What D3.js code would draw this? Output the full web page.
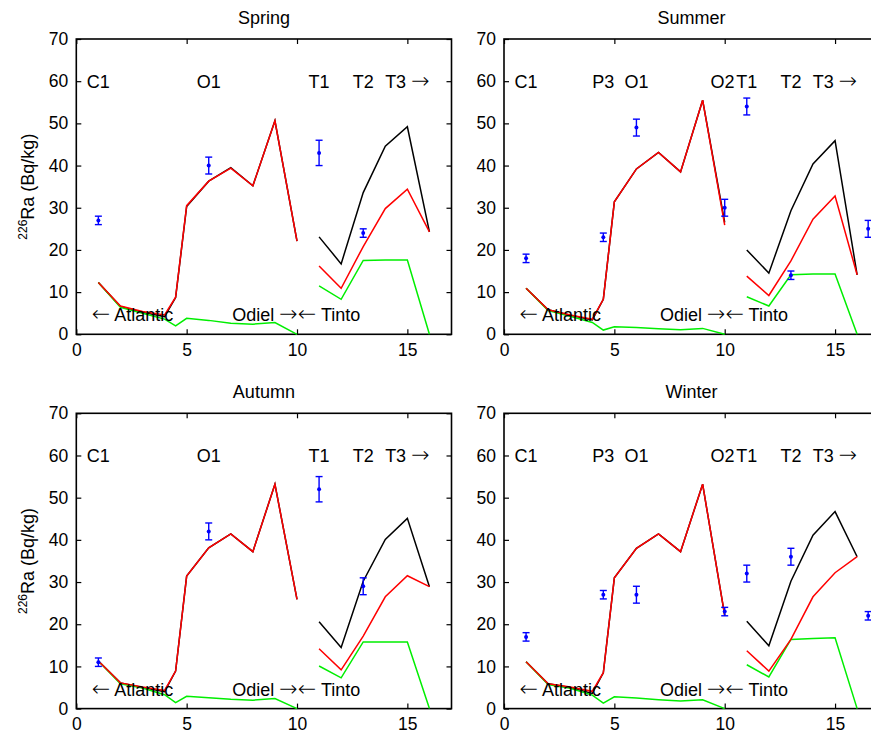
<!DOCTYPE html>
<html><head><meta charset="utf-8">
<script src="https://cdn.jsdelivr.net/npm/d3@7"></script>
<style>
body{margin:0;background:#fff;}
svg{display:block;font-family:"Liberation Sans",Arial,Helvetica,sans-serif;}
</style></head><body>
<svg id="chart" width="871" height="737"></svg>
<script>
// ---- data ----
const seasons = ["Spring", "Summer", "Autumn", "Winter"];
const xMain = [1, 2, 3, 4, 4.5, 5, 6, 7, 8, 9, 10];
const xTinto = [11, 12, 13, 14, 15, 16];
const yTicks = [0, 10, 20, 30, 40, 50, 60, 70];
const xTicks = [0, 5, 10, 15];

const springBlackMain = [12.3, 6.6, 5.2, 4.2, 8.7, 30.3, 36.3, 39.5, 35.2, 50.6, 22.1];
const springRedMain   = [12.3, 6.7, 5.4, 4.6, 8.8, 30.5, 36.3, 39.4, 35.2, 50.6, 22.1];
const springGreenMain = [12.3, 6.4, 5.0, 3.6, 2.0, 3.8, 3.3, 2.6, 2.4, 2.8, 0];
const springBlackTinto = [23.1, 16.7, 33.6, 44.6, 49.2, 24.3];
const springRedTinto   = [16.2, 10.9, 20.8, 29.8, 34.4, 24.3];
const springGreenTinto = [11.5, 8.3, 17.5, 17.6, 17.6, 0];
const springErrX = [1, 6, 11, 13];
const springErrY = [27, 40, 43, 24];
const springErrE = [1, 2, 3, 1];
const springLabels = ["C1", "O1", "T1", "T2", "T3 \u2192"];
const springLabelX = [1, 6, 11, 13, 15];

const summerBlackMain = [10.9, 5.8, 4.5, 3.4, 8.3, 31.4, 39.2, 43.1, 38.5, 55.5, 26.5];
const summerRedMain   = [10.9, 5.8, 4.6, 3.6, 8.3, 31.4, 39.2, 43.1, 38.5, 55.5, 25.9];
const summerGreenMain = [10.9, 5.6, 4.3, 2.8, 1.0, 1.8, 1.6, 1.3, 1.1, 1.4, 0];
const summerBlackTinto = [20.0, 14.5, 29.3, 40.4, 45.9, 14.1];
const summerRedTinto   = [13.8, 9.2, 17.4, 27.3, 32.8, 14.1];
const summerGreenTinto = [8.9, 6.7, 14.1, 14.3, 14.3, 0];
const summerErrX = [1, 4.5, 6, 10, 11, 13, 16.5];
const summerErrY = [18, 23, 49, 30, 54, 14, 25];
const summerErrE = [1, 1, 2, 2, 2, 1, 2];
const summerLabels = ["C1", "P3", "O1", "O2", "T1", "T2", "T3 \u2192"];
const summerLabelX = [1, 4.5, 6, 9.9, 11, 13, 15];

const autumnBlackMain = [11.3, 6.1, 5.0, 4.0, 8.9, 31.4, 38.1, 41.4, 37.2, 53.2, 25.9];
const autumnRedMain   = [11.3, 6.1, 5.1, 4.3, 8.9, 31.4, 38.1, 41.4, 37.2, 53.2, 25.9];
const autumnGreenMain = [11.3, 5.9, 4.9, 3.3, 1.4, 2.9, 2.6, 2.2, 2.0, 2.4, 0];
const autumnBlackTinto = [20.6, 14.5, 30.2, 40.1, 45.1, 28.9];
const autumnRedTinto   = [14.2, 9.2, 17.2, 26.5, 31.5, 28.9];
const autumnGreenTinto = [10.1, 7.3, 15.8, 15.8, 15.8, 0];
const autumnErrX = [1, 6, 11, 13];
const autumnErrY = [11, 42, 52, 29];
const autumnErrE = [1, 2, 3, 2];
const autumnLabels = ["C1", "O1", "T1", "T2", "T3 \u2192"];
const autumnLabelX = [1, 6, 11, 13, 15];

const winterBlackMain = [11.1, 5.9, 5.0, 3.6, 8.5, 31.0, 38.0, 41.4, 37.2, 53.2, 22.1];
const winterRedMain   = [11.1, 5.9, 5.1, 4.1, 8.5, 31.0, 38.0, 41.4, 37.2, 53.2, 22.1];
const winterGreenMain = [11.1, 5.7, 4.8, 3.2, 1.3, 2.8, 2.5, 2.1, 1.8, 2.1, 0];
const winterBlackTinto = [20.7, 14.9, 30.2, 41.1, 46.7, 36.0];
const winterRedTinto   = [13.7, 8.9, 16.4, 26.5, 32.2, 36.0];
const winterGreenTinto = [10.4, 7.5, 16.4, 16.6, 16.8, 0];
const winterErrX = [1, 4.5, 6, 10, 11, 13, 16.5];
const winterErrY = [17, 27, 27, 23, 32, 36, 22];
const winterErrE = [1, 1, 2, 1, 2, 2, 1];
const winterLabels = ["C1", "P3", "O1", "O2", "T1", "T2", "T3 \u2192"];
const winterLabelX = [1, 4.5, 6, 9.9, 11, 13, 15];

const bottomLabels = ["\u2190 Atlantic", "Odiel \u2192", "\u2190 Tinto"];
const bottomLabelX = [2.55, 8.55, 11.45];

// ---- layout ----
const panels = [
  {title: seasons[0], left: 76.3, top: 39, bM: springBlackMain, rM: springRedMain, gM: springGreenMain, bT: springBlackTinto, rT: springRedTinto, gT: springGreenTinto, ex: springErrX, ey: springErrY, ee: springErrE, lab: springLabels, labX: springLabelX, ylab: true},
  {title: seasons[1], left: 504, top: 39, bM: summerBlackMain, rM: summerRedMain, gM: summerGreenMain, bT: summerBlackTinto, rT: summerRedTinto, gT: summerGreenTinto, ex: summerErrX, ey: summerErrY, ee: summerErrE, lab: summerLabels, labX: summerLabelX, ylab: false},
  {title: seasons[2], left: 76.3, top: 413.3, bM: autumnBlackMain, rM: autumnRedMain, gM: autumnGreenMain, bT: autumnBlackTinto, rT: autumnRedTinto, gT: autumnGreenTinto, ex: autumnErrX, ey: autumnErrY, ee: autumnErrE, lab: autumnLabels, labX: autumnLabelX, ylab: true},
  {title: seasons[3], left: 504, top: 413.3, bM: winterBlackMain, rM: winterRedMain, gM: winterGreenMain, bT: winterBlackTinto, rT: winterRedTinto, gT: winterGreenTinto, ex: winterErrX, ey: winterErrY, ee: winterErrE, lab: winterLabels, labX: winterLabelX, ylab: false}
];
const W = 375.2, H = 295.3;
const FS = 18;
const TICKFS = 17.5;

const svg = d3.select("#chart");

// write text, rendering arrows with a wider glyph
function richText(sel, str) {
  const parts = str.split(/([\u2190\u2192])/).filter(s => s.length);
  parts.forEach(s => {
    const t = sel.append("tspan").text(s);
    if (s === "\u2190" || s === "\u2192") {
      t.style("font-family", '"DejaVu Sans",sans-serif').style("font-size", "22px").style("font-weight", "200");
    }
  });
}

panels.forEach(p => {
  const g = svg.append("g").attr("transform", `translate(${p.left},${p.top})`);
  const x = d3.scaleLinear().domain([0, 17]).range([0, W]);
  const y = d3.scaleLinear().domain([0, 70]).range([H, 0]);

  const styleAxis = (sel, labels) => {
    sel.select(".domain").remove();
    sel.selectAll(".tick line").attr("stroke", "#000").attr("stroke-width", 1.2);
    sel.selectAll(".tick text").attr("fill", "#000").style("font-size", TICKFS + "px")
      .style("font-family", '"Liberation Sans",Arial,sans-serif');
    if (!labels) sel.selectAll(".tick text").remove();
  };
  g.append("g").attr("transform", `translate(0,${H})`)
    .call(d3.axisBottom(x).tickValues(xTicks).tickSizeInner(-5).tickSizeOuter(0).tickPadding(9).tickFormat(d3.format("d")))
    .call(s => styleAxis(s, true));
  g.append("g")
    .call(d3.axisTop(x).tickValues(xTicks).tickSizeInner(-5).tickSizeOuter(0))
    .call(s => styleAxis(s, false));
  g.append("g")
    .call(d3.axisLeft(y).tickValues(yTicks).tickSizeInner(-5).tickSizeOuter(0).tickPadding(8).tickFormat(d3.format("d")))
    .call(s => styleAxis(s, true));
  g.append("g").attr("transform", `translate(${W},0)`)
    .call(d3.axisRight(y).tickValues(yTicks).tickSizeInner(-5).tickSizeOuter(0))
    .call(s => styleAxis(s, false));
  g.append("rect").attr("x", 0).attr("y", 0).attr("width", W).attr("height", H)
    .attr("fill", "none").attr("stroke", "#000").attr("stroke-width", 1.6);

  const line = d3.line().x(d => x(d[0])).y(d => y(d[1]));
  const addLine = (xs, ys, color) => {
    g.append("path").datum(xs.map((v, i) => [v, ys[i]]))
      .attr("d", line).attr("fill", "none").attr("stroke", color)
      .attr("stroke-width", 1.5);
  };
  addLine(xMain, p.bM, "#000000");
  addLine(xMain, p.gM, "#00ee00");
  addLine(xMain, p.rM, "#ff0000");
  addLine(xTinto, p.bT, "#000000");
  addLine(xTinto, p.gT, "#00ee00");
  addLine(xTinto, p.rT, "#ff0000");

  const eb = g.append("g").attr("stroke", "#0000ff").attr("stroke-width", 1.4);
  p.ex.forEach((xv, i) => {
    const cx = x(xv), y1 = y(p.ey[i] + p.ee[i]), y2 = y(p.ey[i] - p.ee[i]);
    eb.append("line").attr("x1", cx).attr("x2", cx).attr("y1", y1).attr("y2", y2);
    eb.append("line").attr("x1", cx - 3.5).attr("x2", cx + 3.5).attr("y1", y1).attr("y2", y1);
    eb.append("line").attr("x1", cx - 3.5).attr("x2", cx + 3.5).attr("y1", y2).attr("y2", y2);
    g.append("circle").attr("cx", cx).attr("cy", y(p.ey[i])).attr("r", 2).attr("fill", "#0000ff");
  });

  p.lab.forEach((t, i) => {
    const tx = g.append("text").attr("x", x(p.labX[i])).attr("y", y(60) + 6.5)
      .attr("text-anchor", "middle")
      .style("font-size", FS + "px").attr("fill", "#000");
    richText(tx, t);
  });
  bottomLabels.forEach((t, i) => {
    const tx = g.append("text").attr("x", x(bottomLabelX[i])).attr("y", y(4.6) + 6.5)
      .attr("text-anchor", "middle")
      .style("font-size", FS + "px").attr("fill", "#000");
    richText(tx, t);
  });

  g.append("text").attr("x", W / 2).attr("y", -15)
    .attr("text-anchor", "middle")
    .style("font-size", FS + "px").attr("fill", "#000").text(p.title);

  if (p.ylab) {
    const t = g.append("text").attr("transform", `translate(${-42},${H / 2}) rotate(-90)`)
      .attr("text-anchor", "middle").style("font-size", FS + "px").attr("fill", "#000");
    t.append("tspan").style("font-size", "12px").attr("dy", "-7").text("226");
    t.append("tspan").attr("dy", "7").text("Ra (Bq/kg)");
  }
});
</script>
</body></html>
